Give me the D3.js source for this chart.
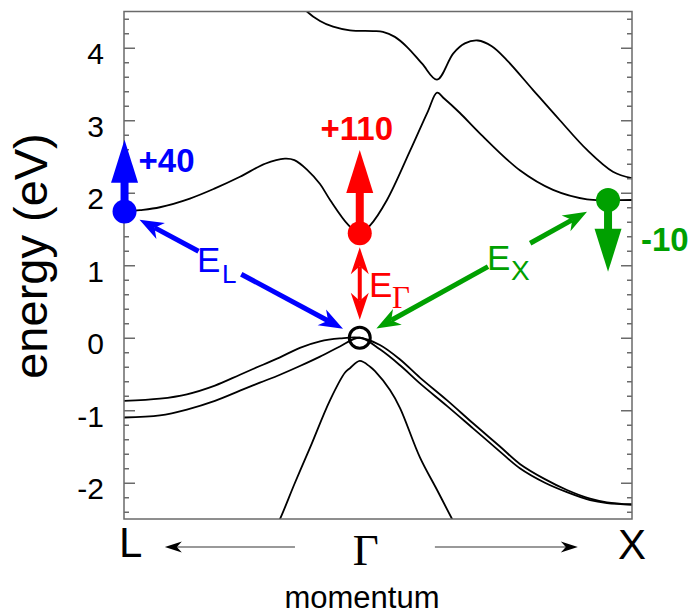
<!DOCTYPE html>
<html>
<head>
<meta charset="utf-8">
<script src="https://cdn.jsdelivr.net/npm/d3@7"></script>
<style>
  html, body { margin: 0; padding: 0; background: #fff; }
  svg { display: block; font-family: "Liberation Sans", Arial, Helvetica, sans-serif; }
</style>
</head>
<body>
<svg id="chart" width="696" height="616"></svg>
<script>
// Symmetry points along the path L - Gamma - X (momentum in units of 2*pi/a)
const kL = -0.866, kG = 0, kX = 1;
const pointLabels = ["L", "\u0393", "X"];
const pointK = [kL, kG, kX];

// Energy axis ticks (eV)
const majorTicks = [-2, -1, 0, 1, 2, 3, 4];
const minorTicks = d3.range(-24, 45, 2).map(v => v / 10).filter(v => Math.abs(v - Math.round(v)) > 1e-6);

// Band energies [k, E] along L - Gamma - X
const bandC2 = [[-0.22,4.62],[-0.194,4.50],[-0.146,4.37],[-0.098,4.29],[-0.036,4.24],[0.049,4.23],[0.085,4.22],
  [0.129,4.15],[0.174,4.01],[0.229,3.78],[0.284,3.56],[0.343,3.92],[0.386,4.06],[0.434,4.10],[0.485,4.02],
  [0.540,3.83],[0.636,3.42],[0.735,3.00],[0.835,2.59],[0.930,2.29],[1.0,2.20]];
const bandC1 = [[-0.866,1.74],[-0.807,1.76],[-0.734,1.80],[-0.624,1.92],[-0.532,2.06],[-0.440,2.22],[-0.348,2.40],
  [-0.275,2.47],[-0.240,2.45],[-0.194,2.32],[-0.146,2.12],[-0.109,1.90],[-0.043,1.56],[0,1.44],[0.038,1.55],
  [0.100,1.90],[0.185,2.58],[0.250,3.12],[0.284,3.38],[0.310,3.30],[0.368,3.10],[0.441,2.82],[0.588,2.31],
  [0.710,2.04],[0.835,1.91],[0.919,1.90],[1.0,1.90]];
const bandV1 = [[-0.866,-0.87],[-0.734,-0.84],[-0.635,-0.78],[-0.532,-0.66],[-0.440,-0.51],[-0.367,-0.39],
  [-0.293,-0.27],[-0.220,-0.14],[-0.146,-0.05],[-0.073,-0.01],[0,0],[0.074,-0.10],[0.148,-0.30],[0.221,-0.55],
  [0.320,-0.86],[0.416,-1.18],[0.515,-1.50],[0.588,-1.74],[0.680,-1.95],[0.761,-2.10],[0.846,-2.22],
  [0.908,-2.27],[1.0,-2.30]];
const bandV2 = [[-0.866,-1.10],[-0.734,-1.07],[-0.635,-0.99],[-0.532,-0.87],[-0.440,-0.73],[-0.367,-0.62],
  [-0.293,-0.51],[-0.220,-0.39],[-0.146,-0.26],[-0.073,-0.12],[0,0],[0.074,-0.16],[0.148,-0.38],[0.221,-0.63],
  [0.320,-0.94],[0.416,-1.25],[0.515,-1.57],[0.588,-1.80],[0.680,-2.00],[0.761,-2.13],[0.846,-2.24],
  [0.908,-2.28],[1.0,-2.30]];
const bandV3 = [[-0.31,-2.62],[-0.293,-2.50],[-0.238,-2.00],[-0.183,-1.52],[-0.109,-0.86],[-0.054,-0.48],
  [-0.036,-0.42],[0,-0.32],[0.038,-0.40],[0.056,-0.46],[0.111,-0.72],[0.148,-0.97],[0.221,-1.65],
  [0.284,-2.10],[0.339,-2.50],[0.36,-2.65]];
const bands = [bandC2, bandC1, bandV1, bandV2, bandV3];

// Valley minima and their shifts (meV) under strain
const shiftLabels = ["+40", "+110", "-10"];
const shiftK = [-0.864, 0, 0.912];
const shiftE = [1.74, 1.44, 1.90];
const shiftTipE = [2.73, 2.59, 0.91];
const shiftColors = ["#0000ff", "#ff0000", "#00a000"];

// Gap labels (E_L, E_Gamma, E_X)
const gapSubs = ["L", "\u0393", "X"];

const svg = d3.select("#chart");
const x = d3.scaleLinear().domain([kL, kX]).range([124, 632]);
const y = d3.scaleLinear().domain([-2.5, 4.5]).range([519, 11.5]);

const axisColor = "#6a6a6a";

svg.append("defs").append("clipPath").attr("id", "plotClip")
  .append("rect").attr("x", x(kL)).attr("y", y(4.5))
  .attr("width", x(kX) - x(kL)).attr("height", y(-2.5) - y(4.5));

// Bands
const line = d3.line().x(d => x(d[0])).y(d => y(d[1])).curve(d3.curveCatmullRom.alpha(0.5));
svg.append("g").attr("clip-path", "url(#plotClip)")
  .selectAll("path").data(bands).join("path")
  .attr("d", line).attr("fill", "none").attr("stroke", "#000").attr("stroke-width", 1.8);

// Frame
svg.append("rect").attr("x", x(kL)).attr("y", y(4.5))
  .attr("width", x(kX) - x(kL)).attr("height", y(-2.5) - y(4.5))
  .attr("fill", "none").attr("stroke", axisColor).attr("stroke-width", 1.5);

// Left axis: major ticks with labels, minor ticks
const leftMajor = svg.append("g").attr("transform", `translate(${x(kL)},0)`)
  .call(d3.axisLeft(y).tickValues(majorTicks).tickSize(-11).tickPadding(20).tickFormat(d3.format("d")));
const leftMinor = svg.append("g").attr("transform", `translate(${x(kL)},0)`)
  .call(d3.axisLeft(y).tickValues(minorTicks).tickSize(-5).tickFormat(""));
const rightMajor = svg.append("g").attr("transform", `translate(${x(kX)},0)`)
  .call(d3.axisRight(y).tickValues(majorTicks).tickSize(-11).tickFormat(""));
const rightMinor = svg.append("g").attr("transform", `translate(${x(kX)},0)`)
  .call(d3.axisRight(y).tickValues(minorTicks).tickSize(-5).tickFormat(""));
[leftMajor, leftMinor, rightMajor, rightMinor].forEach(g => {
  g.select(".domain").remove();
  g.selectAll(".tick line").attr("stroke", axisColor).attr("stroke-width", 1.5);
});
leftMajor.selectAll(".tick text")
  .attr("font-size", 30).attr("font-family", "Liberation Sans, Arial, sans-serif")
  .attr("fill", "#000").attr("dy", "0.53em")
  .text(d => d < 0 ? "-" + Math.abs(d) : d);

// Axis titles
svg.append("text").attr("transform", `translate(47,256) rotate(-90)`)
  .attr("text-anchor", "middle").attr("font-size", 47).text("energy (eV)");
svg.append("text").attr("x", 362).attr("y", 608)
  .attr("text-anchor", "middle").attr("font-size", 31).text("momentum");

// Symmetry point labels
svg.append("text").attr("x", x(pointK[0]) - 5).attr("y", 557).attr("font-size", 42).text(pointLabels[0]);
svg.append("text").attr("x", x(pointK[1]) + 6).attr("y", 565).attr("text-anchor", "middle")
  .attr("font-family", "Liberation Serif, Times New Roman, serif").attr("font-size", 45).text(pointLabels[1]);
svg.append("text").attr("x", x(pointK[2])).attr("y", 559).attr("text-anchor", "middle")
  .attr("font-size", 42).text(pointLabels[2]);

// Notched arrowhead helper
function notchedHead(tx, ty, ux, uy, len, half, notch) {
  const nx = -uy, ny = ux;
  const bx = tx - ux * len, by = ty - uy * len;
  return `M${tx},${ty}L${bx + nx * half},${by + ny * half}L${tx - ux * (len - notch)},${ty - uy * (len - notch)}L${bx - nx * half},${by - ny * half}Z`;
}

// Momentum direction arrows under the axis
const dirArrows = [[-0.238, -0.716], [0.276, 0.801]];
dirArrows.forEach(([k0, k1]) => {
  const x0 = x(k0), x1 = x(k1), yy = 547;
  const u = Math.sign(x1 - x0);
  svg.append("line").attr("x1", x0).attr("y1", yy).attr("x2", x1 - u * 12).attr("y2", yy)
    .attr("stroke", "#777").attr("stroke-width", 1.6);
  svg.append("path").attr("d", notchedHead(x1, yy, u, 0, 17, 5.5, 5)).attr("fill", "#000");
});

// Double-headed gap arrows from Gamma (valence top) to each valley
function gapArrow(i, startOff, endOff, len, half, notch, width, gapA, gapB) {
  const sx = x(shiftK[i]), sy = y(shiftE[i]);
  const ex = x(kG), ey = y(0);
  const dx = ex - sx, dy = ey - sy, L = Math.hypot(dx, dy);
  const ux = dx / L, uy = dy / L;
  const p0 = [sx + ux * startOff, sy + uy * startOff];
  const p1 = [ex - ux * endOff, ey - uy * endOff];
  const seg = Math.hypot(p1[0] - p0[0], p1[1] - p0[1]);
  const a0 = [p0[0] + ux * (len - notch), p0[1] + uy * (len - notch)];
  const a1 = [p1[0] - ux * (len - notch), p1[1] - uy * (len - notch)];
  const g = svg.append("g").attr("fill", shiftColors[i]).attr("stroke", shiftColors[i]);
  const pieces = gapA == null ? [[a0, a1]] :
    [[a0, [p0[0] + ux * seg * gapA, p0[1] + uy * seg * gapA]], [[p0[0] + ux * seg * gapB, p0[1] + uy * seg * gapB], a1]];
  pieces.forEach(([q0, q1]) => {
    g.append("line").attr("x1", q0[0]).attr("y1", q0[1]).attr("x2", q1[0]).attr("y2", q1[1])
      .attr("stroke-width", width).attr("fill", "none");
  });
  g.append("path").attr("stroke", "none").attr("d", notchedHead(p0[0], p0[1], -ux, -uy, len, half, notch));
  g.append("path").attr("stroke", "none").attr("d", notchedHead(p1[0], p1[1], ux, uy, len, half, notch));
}
gapArrow(0, 17, 19, 24, 9, 7, 5, 0.29, 0.50);
gapArrow(1, 14, 18, 27, 9, 8, 4, null, null);
gapArrow(2, 24, 19, 24, 9, 7, 5, 0.27, 0.47);

// Gap labels
function gapLabel(i, ex, ey, sx, sy, subFont, subSize) {
  const t = svg.append("text").attr("fill", shiftColors[i]).attr("font-size", 35);
  t.append("tspan").attr("x", ex).attr("y", ey).text("E");
  t.append("tspan").attr("x", sx).attr("y", sy).attr("font-size", subSize)
    .attr("font-family", subFont).text(gapSubs[i]);
}
gapLabel(0, 197, 272, 222, 283, "Liberation Sans, Arial, sans-serif", 26);
gapLabel(1, 369, 297, 392, 308, "Liberation Serif, Times New Roman, serif", 31);
gapLabel(2, 487, 270, 511, 280, "Liberation Sans, Arial, sans-serif", 28);

// Valley dots with shift arrows
shiftK.forEach((k, i) => {
  const cx = x(k), cy = y(shiftE[i]), ty = y(shiftTipE[i]);
  const dir = Math.sign(ty - cy);
  const headLen = 43, half = 13.5;
  const by = ty - dir * headLen;
  const g = svg.append("g").attr("fill", shiftColors[i]);
  g.append("line").attr("x1", cx).attr("y1", cy).attr("x2", cx).attr("y2", by + dir * 1)
    .attr("stroke", shiftColors[i]).attr("stroke-width", 8);
  g.append("path").attr("d", `M${cx},${ty}L${cx - half},${by}L${cx + half},${by}Z`);
  g.append("circle").attr("cx", cx).attr("cy", cy).attr("r", 12);
});

// Shift labels
const shiftText = svg.append("g").attr("font-weight", "bold").attr("font-size", 33);
shiftText.append("text").attr("x", x(shiftK[0]) + 14).attr("y", y(shiftTipE[0]) + 32)
  .attr("fill", shiftColors[0]).text(shiftLabels[0]);
shiftText.append("text").attr("x", x(shiftK[1]) - 3).attr("y", y(shiftTipE[1]) - 10)
  .attr("text-anchor", "middle").attr("fill", shiftColors[1]).text(shiftLabels[1]);
shiftText.append("text").attr("x", x(shiftK[2]) + 33).attr("y", y(shiftTipE[2]) - 21)
  .attr("fill", shiftColors[2]).text(shiftLabels[2]);

// Valence band maximum at Gamma
svg.append("circle").attr("cx", x(kG)).attr("cy", y(0)).attr("r", 10.5)
  .attr("fill", "none").attr("stroke", "#000").attr("stroke-width", 3);
</script>
</body>
</html>
